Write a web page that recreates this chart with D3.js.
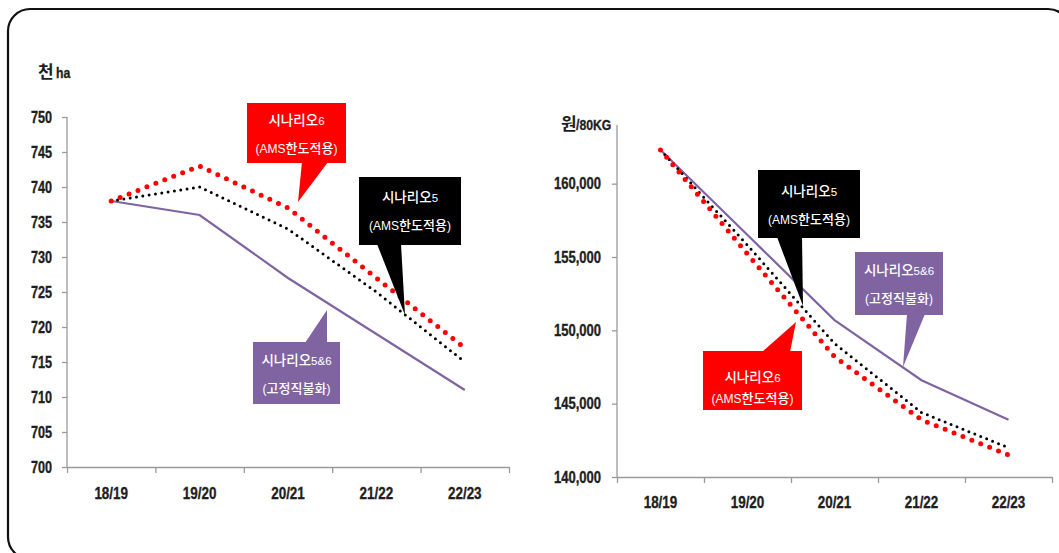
<!DOCTYPE html>
<html>
<head>
<meta charset="utf-8">
<script src="https://cdn.jsdelivr.net/npm/d3@7/dist/d3.min.js"></script>
<style>
  html, body { margin: 0; padding: 0; background: #fff; }
  svg { display: block; }
  .num { font-family: "Liberation Sans", Arial, sans-serif; font-weight: bold; fill: #1e1e1e; stroke: #1e1e1e; stroke-width: 0.35; }
  .kr { font-family: "Noto Sans CJK KR", "Noto Sans", sans-serif; }
</style>
</head>
<body>
<svg id="chart" width="1059" height="553"></svg>
<script>
// Crop years (x categories shared by both panels)
const categories = ["18/19", "19/20", "20/21", "21/22", "22/23"];

// Left panel: rice planted area, thousand ha
const areaTicks = [700, 705, 710, 715, 720, 725, 730, 735, 740, 745, 750];
const areaFixed = [738, 736, 727, 719, 711];   // 시나리오5&6 (고정직불화)
const areaS5    = [738, 740, 734, 725, 715];   // 시나리오5 (AMS한도적용)
const areaS6    = [738, 743, 737, 727, 717];   // 시나리오6 (AMS한도적용)

// Right panel: rice price, won per 80kg
const priceTicks = [140000, 145000, 150000, 155000, 160000];
const priceFixed = [162300, 156500, 150700, 146600, 143900];
const priceS5    = [162300, 155800, 149100, 144400, 142000];
const priceS6    = [162300, 155200, 148200, 143900, 141500];

const PURPLE = "#8064A2", RED = "#FF0000", BLACK = "#000000", AXIS = "#9a9a9a";
const NARROW = 0.79;   // horizontal squeeze for the condensed numeric labels

const svg = d3.select("#chart");

// outer rounded frame
svg.append("rect")
  .attr("x", 8).attr("y", 9).attr("width", 1062).attr("height", 550)
  .attr("rx", 22).attr("ry", 22)
  .attr("fill", "none").attr("stroke", "#111").attr("stroke-width", 2.2);

function panel(cfg) {
  const g = svg.append("g");
  const x = d3.scaleBand().domain(categories).range([cfg.x0, cfg.x1]).paddingInner(0).paddingOuter(0);
  const y = d3.scaleLinear().domain(cfg.yDomain).range([cfg.yBottom, cfg.yTop]);
  const cx = c => x(c) + x.bandwidth() / 2;

  // y axis
  const ya = g.append("g").attr("transform", `translate(${cfg.x0},0)`)
    .call(d3.axisLeft(y).tickValues(cfg.ticks).tickSize(5).tickSizeOuter(0).tickPadding(cfg.yPad).tickFormat(cfg.fmt));
  ya.select(".domain").attr("stroke", AXIS).attr("stroke-width", 1.3)
    .attr("d", `M0,${cfg.yTop}V${cfg.yBottom}`);
  ya.selectAll(".tick line").attr("stroke", AXIS).attr("stroke-width", 1.3);
  ya.selectAll(".tick text").attr("class", "num").attr("font-size", cfg.yFont).attr("fill", "#1e1e1e")
    .attr("x", -(5 + cfg.yPad) / NARROW).attr("transform", `scale(${NARROW},1)`);

  // x axis: tick marks on category boundaries, labels in band centers
  const edges = d3.scaleLinear().domain([0, categories.length]).range([cfg.x0, cfg.x1]);
  const xa = g.append("g").attr("transform", `translate(0,${cfg.yBottom})`)
    .call(d3.axisBottom(edges).tickValues(d3.range(categories.length + 1)).tickSize(6).tickSizeOuter(0).tickFormat(""));
  xa.select(".domain").attr("stroke", AXIS).attr("stroke-width", 1.3);
  xa.selectAll(".tick line").attr("stroke", AXIS).attr("stroke-width", 1.3);
  g.append("g").attr("transform", `scale(${NARROW},1)`)
    .selectAll("text").data(categories).join("text")
    .attr("class", "num").attr("font-size", 17)
    .attr("x", d => cx(d) / NARROW).attr("y", cfg.xLabelY).attr("text-anchor", "middle")
    .text(d => d);

  // series
  const line = d3.line().x((d, i) => cx(categories[i])).y(d => y(d));
  g.append("path").datum(cfg.fixed).attr("d", line)
    .attr("fill", "none").attr("stroke", PURPLE).attr("stroke-width", 2.2);
  g.append("path").datum(cfg.s5).attr("d", line)
    .attr("fill", "none").attr("stroke", BLACK).attr("stroke-width", 3)
    .attr("stroke-linecap", "round").attr("stroke-dasharray", "0 6.4");
  g.append("path").datum(cfg.s6).attr("d", line)
    .attr("fill", "none").attr("stroke", RED).attr("stroke-width", 5)
    .attr("stroke-linecap", "round").attr("stroke-dasharray", "0 9.6");
  return g;
}

// left panel
panel({
  x0: 67, x1: 509, yTop: 117, yBottom: 467, yDomain: [700, 750],
  ticks: areaTicks, fmt: d3.format("d"), yPad: 10, yFont: 16, xLabelY: 499,
  fixed: areaFixed, s5: areaS5, s6: areaS6
});

// right panel
panel({
  x0: 617, x1: 1052, yTop: 125, yBottom: 477, yDomain: [140000, 164000],
  ticks: priceTicks, fmt: d3.format(","), yPad: 11, yFont: 16.5, xLabelY: 508,
  fixed: priceFixed, s5: priceS5, s6: priceS6
});

// unit labels
svg.append("text").attr("class", "kr").attr("x", 38).attr("y", 78)
  .attr("font-size", 17).attr("font-weight", "bold").attr("fill", "#1e1e1e").text("천");
svg.append("text").attr("class", "num").attr("font-size", 15.5)
  .attr("x", 56 / NARROW).attr("y", 78).attr("transform", `scale(${NARROW},1)`).text("ha");

svg.append("text").attr("class", "kr").attr("x", 561).attr("y", 130)
  .attr("font-size", 17).attr("font-weight", "bold").attr("fill", "#1e1e1e").text("원");
svg.append("text").attr("class", "num").attr("font-size", 15.5)
  .attr("x", 576 / NARROW).attr("y", 130).attr("transform", `scale(${NARROW},1)`).text("/80KG");

// callout boxes with pointers
function callout(c) {
  const g = svg.append("g");
  g.append("polygon").attr("points", c.pointer.map(p => p.join(",")).join(" ")).attr("fill", c.color);
  g.append("rect").attr("x", c.x).attr("y", c.y).attr("width", c.w).attr("height", c.h).attr("fill", c.color);
  const mid = c.x + c.w / 2;
  const t1 = g.append("text").attr("x", mid).attr("y", c.l1).attr("text-anchor", "middle").attr("fill", "#fff");
  t1.append("tspan").attr("class", "kr").attr("font-size", 13.5).attr("font-weight", 500).text(c.name);
  t1.append("tspan").attr("font-family", "Liberation Sans, Arial, sans-serif").attr("font-size", 11.5).text(c.num);
  const t2 = g.append("text").attr("x", mid).attr("y", c.l2).attr("text-anchor", "middle").attr("fill", "#fff");
  c.sub.forEach(s => {
    t2.append("tspan")
      .attr("font-family", s.latin ? "Liberation Sans, Arial, sans-serif" : "Noto Sans CJK KR, sans-serif")
      .attr("font-weight", s.latin ? "normal" : 500)
      .attr("font-size", s.latin ? 12 : 13).text(s.t);
  });
}

const subAMS = [{t: "(", latin: true}, {t: "AMS", latin: true}, {t: "한도적용"}, {t: ")", latin: true}];
const subFixed = [{t: "(", latin: true}, {t: "고정직불화"}, {t: ")", latin: true}];

callout({ color: RED, x: 247, y: 103, w: 99, h: 60, l1: 125, l2: 153,
  pointer: [[302, 162], [328, 162], [298, 202]], name: "시나리오", num: "6", sub: subAMS });
callout({ color: BLACK, x: 359, y: 177, w: 102, h: 68, l1: 202, l2: 230,
  pointer: [[377, 244], [401, 244], [405, 315]], name: "시나리오", num: "5", sub: subAMS });
callout({ color: PURPLE, x: 253, y: 342, w: 87, h: 62, l1: 365, l2: 393,
  pointer: [[305, 343], [327, 310], [327, 343]], name: "시나리오", num: "5&6", sub: subFixed });

callout({ color: BLACK, x: 758, y: 170, w: 102, h: 68, l1: 196, l2: 224,
  pointer: [[777, 237], [802, 237], [803, 306]], name: "시나리오", num: "5", sub: subAMS });
callout({ color: PURPLE, x: 855, y: 252, w: 88, h: 63, l1: 275, l2: 303,
  pointer: [[907, 314], [925, 314], [903, 367]], name: "시나리오", num: "5&6", sub: subFixed });
callout({ color: RED, x: 703, y: 351, w: 99, h: 59, l1: 382, l2: 403,
  pointer: [[762, 352], [796, 322], [790, 352]], name: "시나리오", num: "6", sub: subAMS });
</script>
</body>
</html>
